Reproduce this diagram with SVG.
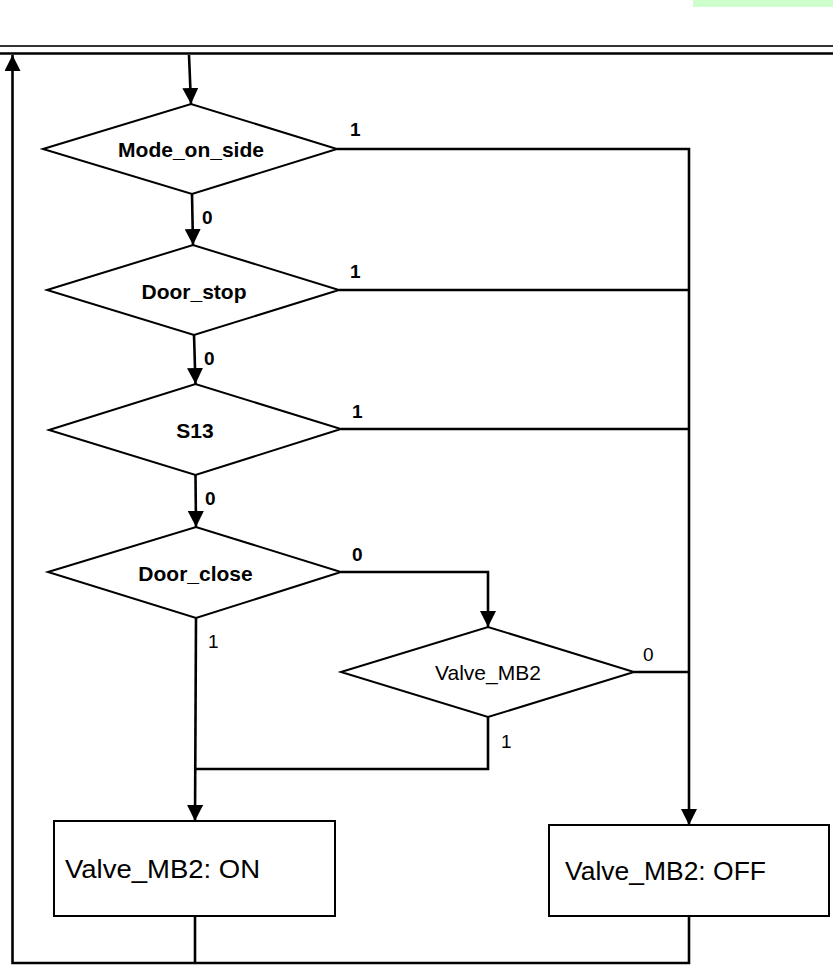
<svg xmlns="http://www.w3.org/2000/svg" width="833" height="966" viewBox="0 0 833 966">
<style>
.shape{fill:#fff;stroke:#000;stroke-width:2}
.ln{fill:none;stroke:#000;stroke-width:2.6}
.lb{font-family:"Liberation Sans",Arial,sans-serif;font-weight:bold;font-size:21px;fill:#000}
.lr{font-family:"Liberation Sans",Arial,sans-serif;font-size:21px;fill:#000}
.bx{font-family:"Liberation Sans",Arial,sans-serif;font-size:25px;fill:#000}
.ed{font-family:"Liberation Sans",Arial,sans-serif;font-weight:bold;font-size:19px;fill:#000}
.er{font-family:"Liberation Sans",Arial,sans-serif;font-size:19px;fill:#000}
</style>
<defs>
<marker id="ah" viewBox="0 0 16 16" refX="16" refY="8" markerWidth="16" markerHeight="16" markerUnits="userSpaceOnUse" orient="auto">
<path d="M0,0 L16,8 L0,16 Z" fill="#000"/>
</marker>
</defs>
<rect x="693" y="0" width="140" height="7" fill="#ccffcc"/>
<line x1="0" y1="46" x2="833" y2="46" stroke="#333" stroke-width="1.8"/>
<line x1="0" y1="53.5" x2="833" y2="53.5" stroke="#000" stroke-width="2.4"/>
<g id="connectors">
<path class="ln" d="M189,55 L191,104" marker-end="url(#ah)"/>
<path class="ln" d="M192,194 L193,245" marker-end="url(#ah)"/>
<path class="ln" d="M194,335 L195.5,384" marker-end="url(#ah)"/>
<path class="ln" d="M195.5,475 L196,527" marker-end="url(#ah)"/>
<path class="ln" d="M337,149 L689,149 L689,825" marker-end="url(#ah)"/>
<path class="ln" d="M339,290 L689,290"/>
<path class="ln" d="M341,429 L689,429"/>
<path class="ln" d="M341,572 L488,572 L488,627" marker-end="url(#ah)"/>
<path class="ln" d="M634,672 L689,672"/>
<path class="ln" d="M196,618 L195,821" marker-end="url(#ah)"/>
<path class="ln" d="M488,717 L488,769 L195,769"/>
<path class="ln" d="M195,916 L195,963"/>
<path class="ln" d="M689,916 L689,963 L12.5,963 L12.5,55" marker-end="url(#ah)"/>
<text class="ed" x="350" y="136">1</text>
<text class="ed" x="202" y="224">0</text>
<text class="ed" x="350" y="278">1</text>
<text class="ed" x="204" y="365">0</text>
<text class="ed" x="352" y="418">1</text>
<text class="ed" x="205" y="505">0</text>
<text class="ed" x="352" y="561">0</text>
<text class="er" x="208" y="648">1</text>
<text class="er" x="643" y="661">0</text>
<text class="er" x="501" y="748">1</text>
</g>
<g id="n_mode">
<polygon class="shape" points="43,149 191,104 337,149 192,194"/>
<text class="lb" x="191" y="157" text-anchor="middle">Mode_on_side</text>
</g>
<g id="n_doorstop">
<polygon class="shape" points="47,290 193,245 339,290 194,335"/>
<text class="lb" x="194" y="299" text-anchor="middle">Door_stop</text>
</g>
<g id="n_s13">
<polygon class="shape" points="49,430 195.5,384 341,429 195.5,475"/>
<text class="lb" x="195" y="438" text-anchor="middle">S13</text>
</g>
<g id="n_doorclose">
<polygon class="shape" points="48,572 196,527 341,572 196,618"/>
<text class="lb" x="195.5" y="581" text-anchor="middle">Door_close</text>
</g>
<g id="n_valve">
<polygon class="shape" points="341,672 488,627 634,672 488,717"/>
<text class="lr" x="488" y="680" text-anchor="middle">Valve_MB2</text>
</g>
<g id="n_on">
<rect class="shape" x="54" y="821" width="281" height="95"/>
<text class="bx" x="65" y="878" textLength="195" lengthAdjust="spacingAndGlyphs">Valve_MB2: ON</text>
</g>
<g id="n_off">
<rect class="shape" x="549" y="825" width="280" height="91"/>
<text class="bx" x="565" y="880" textLength="201" lengthAdjust="spacingAndGlyphs">Valve_MB2: OFF</text>
</g>
</svg>
